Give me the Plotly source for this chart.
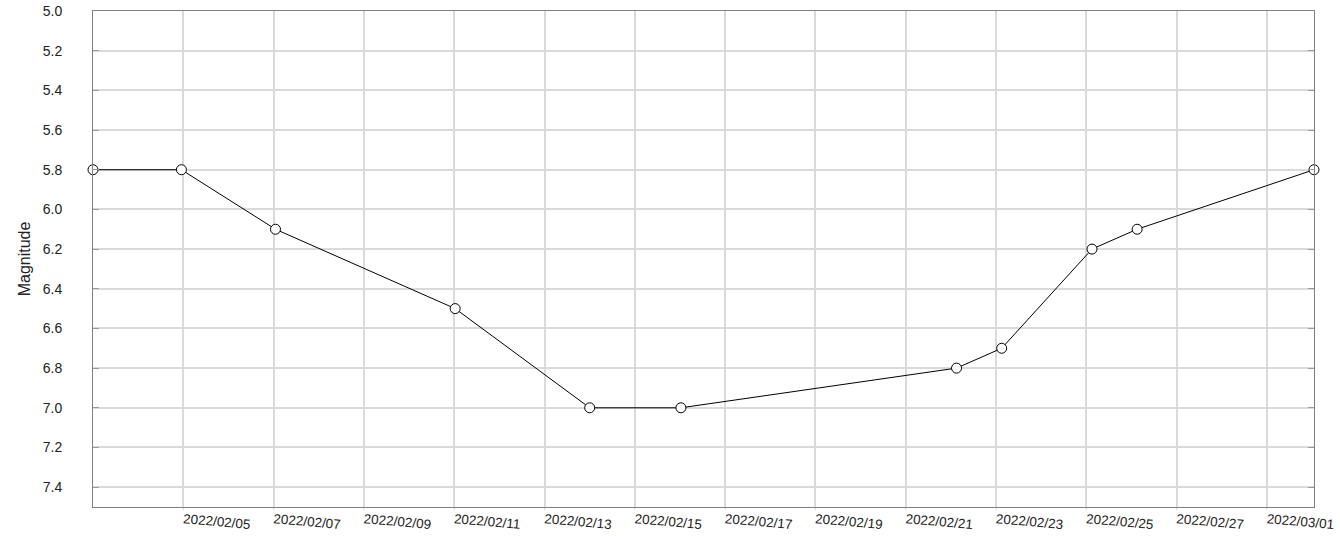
import plotly.graph_objects as go

dates = [
    "2022-02-03 00:00", "2022-02-04 23:00", "2022-02-07 01:00", "2022-02-11 00:30",
    "2022-02-14 00:00", "2022-02-16 00:30", "2022-02-22 03:00", "2022-02-23 03:00",
    "2022-02-25 03:00", "2022-02-26 03:00", "2022-03-02 01:00",
]
magnitudes = [5.8, 5.8, 6.1, 6.5, 7.0, 7.0, 6.8, 6.7, 6.2, 6.1, 5.8]
tick_dates = [
    "2022-02-05", "2022-02-07", "2022-02-09", "2022-02-11", "2022-02-13",
    "2022-02-15", "2022-02-17", "2022-02-19", "2022-02-21", "2022-02-23",
    "2022-02-25", "2022-02-27", "2022-03-01",
]
tick_labels = [d.replace("-", "/") for d in tick_dates]

fig = go.Figure(go.Scatter(
    x=dates, y=magnitudes, mode="lines+markers",
    line=dict(color="black", width=1),
    marker=dict(size=10, color="white", line=dict(color="black", width=1)),
    cliponaxis=False,
))

family = "Liberation Sans, Arial, sans-serif"
fig.update_layout(
    width=1340, height=536,
    margin=dict(l=93, r=26, t=11, b=29, autoexpand=False),
    paper_bgcolor="white", plot_bgcolor="white",
    showlegend=False, font=dict(family=family, size=14, color="#222222"),
)
fig.update_xaxes(
    type="date", range=[dates[0], dates[-1]], automargin=False,
    tickmode="array", tickvals=tick_dates, ticktext=tick_labels,
    tickangle=5, ticklabelstandoff=-3,
    tickfont=dict(family=family, size=13.5, color="#222222"),
    showgrid=True, gridcolor="#dadada", gridwidth=1.5,
    showline=True, linecolor="#808080", linewidth=1, mirror=True,
    ticks="outside", ticklen=2, tickcolor="#dadada", zeroline=False,
)
fig.update_yaxes(
    range=[7.5, 5.0], dtick=0.2, tick0=5.0, tickformat=".1f", automargin=False,
    tickfont=dict(family=family, size=14, color="#222222"),
    showgrid=True, gridcolor="#dadada", gridwidth=1.5,
    showline=True, linecolor="#808080", linewidth=1, mirror="allticks",
    ticks="inside", ticklen=6, tickcolor="#9a9a9a",
    ticklabelstandoff=27, ticklabeloverflow="allow", zeroline=False,
    title=dict(text="Magnitude", standoff=8,
               font=dict(family=family, size=16, color="#222222")),
)
fig.write_html(
    "out.html",
    config={"displayModeBar": False},
    post_script="document.body.style.margin='0';document.body.style.overflow='hidden';",
)
